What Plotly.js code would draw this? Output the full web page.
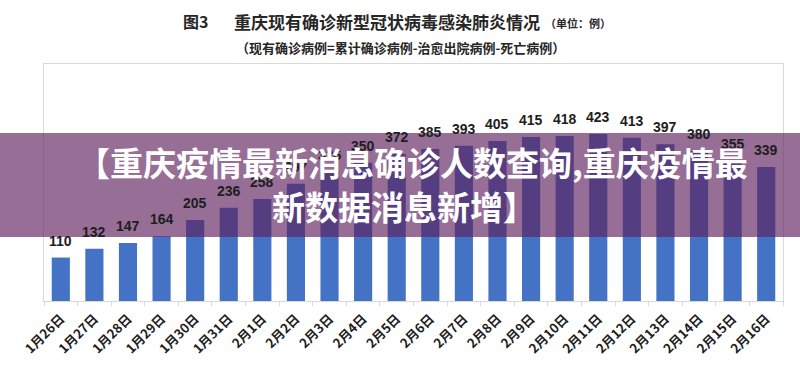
<!DOCTYPE html>
<html>
<head>
<meta charset="utf-8">
<script src="https://cdn.plot.ly/plotly-3.0.1.min.js"></script>
<style>html,body{margin:0;padding:0;background:#fff;}#chart{width:800px;height:370px;}</style>
</head>
<body>
<div id="chart"></div>
<script>
const dates = ["1月26日","1月27日","1月28日","1月29日","1月30日","1月31日","2月1日","2月2日","2月3日","2月4日","2月5日","2月6日","2月7日","2月8日","2月9日","2月10日","2月11日","2月12日","2月13日","2月14日","2月15日","2月16日"];
const cases = [110,132,147,164,205,236,258,297,326,350,372,385,393,405,415,418,423,413,397,380,355,339];
const titleMain = "重庆现有确诊新型冠状病毒感染肺炎情况";
const titleFig = "图3";
const titleUnit = "（单位：例）";
const subtitle = "（现有确诊病例=累计确诊病例-治愈出院病例-死亡病例）";
const bannerLine1 = "【重庆疫情最新消息确诊人数查询,重庆疫情最";
const bannerLine2 = "新数据消息新增】";

const CJK = "'Noto Sans CJK SC', 'Noto Sans', sans-serif";
const L = 44, R = 17, T = 64, B = 69, W = 800, H = 370;
const pw = W - L - R, ph = H - T - B;
const px = x => (x - L) / pw;
const py = y => (H - B - y) / ph;

const trace = {
  type: 'bar',
  x: dates,
  y: cases,
  marker: {color: '#4472C4'},
  hoverinfo: 'none'
};

const annotations = dates.map((d, i) => ({
  x: d, y: cases[i], xref: 'x', yref: 'y',
  text: String(cases[i]), showarrow: false,
  yanchor: 'bottom', yshift: 7,
  font: {family: "'Liberation Sans', Arial, sans-serif", size: 14, color: '#1e1e1e', weight: 'bold'}
}));

annotations.push(
  {xref:'paper', yref:'paper', x: px(195), y: py(21), text: titleFig, showarrow:false, xanchor:'center', yanchor:'middle',
   font:{family:CJK, size:16, color:'#262626', weight:'bold'}},
  {xref:'paper', yref:'paper', x: px(387), y: py(21), text: titleMain, showarrow:false, xanchor:'center', yanchor:'middle',
   font:{family:CJK, size:17, color:'#262626', weight:'bold'}},
  {xref:'paper', yref:'paper', x: px(578), y: py(23), text: titleUnit, showarrow:false, xanchor:'center', yanchor:'middle',
   font:{family:CJK, size:11, color:'#262626', weight:'bold'}},
  {xref:'paper', yref:'paper', x: px(400), y: py(47), text: subtitle, showarrow:false, xanchor:'center', yanchor:'middle',
   font:{family:CJK, size:13, color:'#262626', weight:'bold'}},
  {xref:'paper', yref:'paper', x: px(412), y: py(162), text: bannerLine1, showarrow:false, xanchor:'center', yanchor:'middle',
   font:{family:CJK, size:33, color:'#ffffff', weight:'bold'}},
  {xref:'paper', yref:'paper', x: px(404), y: py(206), text: bannerLine2, showarrow:false, xanchor:'center', yanchor:'middle',
   font:{family:CJK, size:33, color:'#ffffff', weight:'bold'}}
);

const layout = {
  width: W, height: H,
  margin: {l: L, r: R, t: T, b: B, pad: 0},
  paper_bgcolor: '#ffffff', plot_bgcolor: '#ffffff',
  showlegend: false,
  bargap: 0.46,
  xaxis: {
    type: 'category', showline: true, mirror: true, linecolor: '#d9d9d9', linewidth: 1,
    ticks: 'outside', tickson: 'boundaries', ticklen: 4, tickcolor: '#d9d9d9',
    tickangle: -45, ticklabelstandoff: 4,
    tickfont: {family: CJK, size: 13, color: '#1e1e1e', weight: 'bold'},
    showgrid: false, fixedrange: true
  },
  yaxis: {
    range: [0, 600], showline: true, mirror: true, linecolor: '#d9d9d9', linewidth: 1,
    showticklabels: false, ticks: '', showgrid: false, zeroline: false, fixedrange: true
  },
  shapes: [{
    type: 'rect', xref: 'paper', yref: 'paper', layer: 'above',
    x0: px(0), x1: px(800), y0: py(237), y1: py(133),
    fillcolor: 'rgba(94,32,94,0.65)', line: {width: 0}
  }],
  annotations: annotations
};

Plotly.newPlot('chart', [trace], layout, {staticPlot: true, displayModeBar: false});
</script>
</body>
</html>
